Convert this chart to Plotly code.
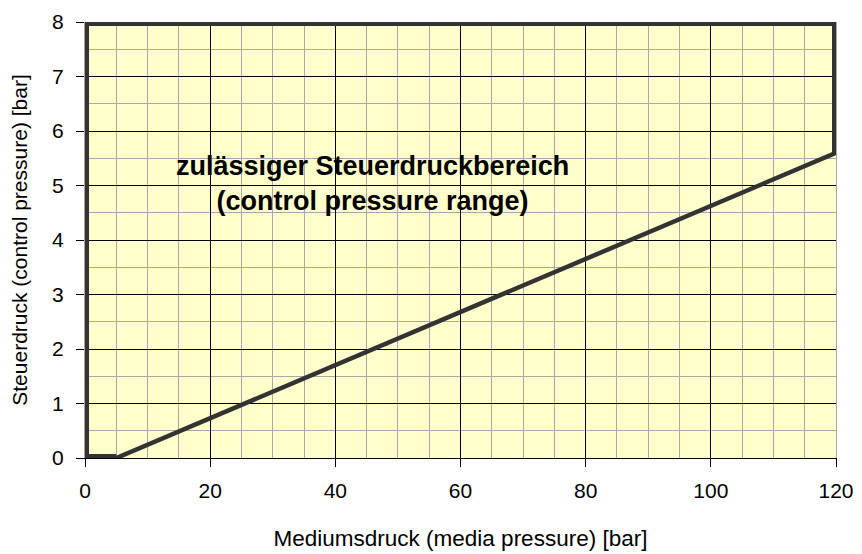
import plotly.graph_objects as go

# data
media_pressure = [0, 5, 120]          # bar
control_pressure = [0, 0, 5.6]        # bar
range_x = [5, 0, 0, 120, 120]         # boundary of permitted range
range_y = [0, 0, 8, 8, 5.6]
x_ticks = [0, 20, 40, 60, 80, 100, 120]
y_ticks = [0, 1, 2, 3, 4, 5, 6, 7, 8]

fig = go.Figure()
fig.add_trace(go.Scatter(x=range_x, y=range_y, mode="lines",
                         line=dict(color="#333333", width=8),
                         hoverinfo="skip", showlegend=False))
fig.add_trace(go.Scatter(x=media_pressure, y=control_pressure, mode="lines",
                         line=dict(color="#333333", width=4.5),
                         showlegend=False))

fig.add_annotation(x=45.9, y=5.03, xref="x", yref="y",
                   text="<b>zulässiger Steuerdruckbereich<br>(control pressure range)</b>",
                   showarrow=False, align="center",
                   font=dict(family="Liberation Sans, Arial", size=27, color="black"))

tickfont = dict(family="Liberation Sans, Arial", size=21, color="black")
fig.update_xaxes(range=[0, 120], tickvals=x_ticks, ticks="outside", ticklen=8,
                 tickcolor="black", showgrid=True, gridcolor="black", gridwidth=1,
                 minor=dict(dtick=5, tick0=0, showgrid=True, gridcolor="#a8a8a8", gridwidth=1),
                 showline=True, linecolor="black", zeroline=False, tickfont=tickfont,
                 ticklabelstandoff=6,
                 title=dict(text="Mediumsdruck (media pressure) [bar]",
                            font=dict(family="Liberation Sans, Arial", size=22.5, color="black"),
                            standoff=29))
fig.update_yaxes(range=[0, 8], tickvals=y_ticks, ticks="outside", ticklen=8,
                 tickcolor="black", showgrid=True, gridcolor="black", gridwidth=1,
                 minor=dict(dtick=0.5, tick0=0, showgrid=True, gridcolor="#a8a8a8", gridwidth=1),
                 showline=True, linecolor="#a8a8a8", mirror=True, zeroline=False, tickfont=tickfont,
                 ticklabelstandoff=8,
                 title=dict(text="Steuerdruck (control pressure) [bar]",
                            font=dict(family="Liberation Sans, Arial", size=21, color="black"),
                            standoff=19))
# the page body adds an 8px offset; margins compensate for it
fig.update_layout(width=862, height=554, plot_bgcolor="#ffffcc", paper_bgcolor="white",
                  margin=dict(l=77, r=34, t=14, b=104, autoexpand=False), showlegend=False)
fig.write_html("out.html")
